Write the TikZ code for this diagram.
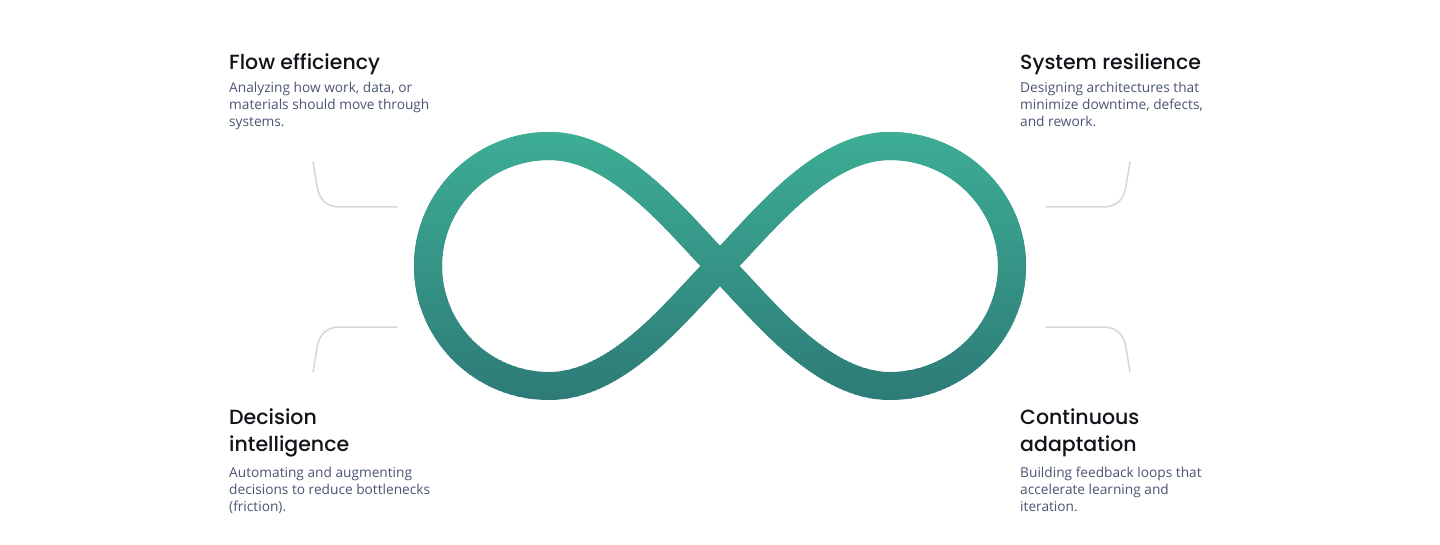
\documentclass[tikz,border=0pt]{standalone}
\usepackage{fontspec}
\setmainfont{Open Sans}
\newfontfamily\titlefont{Poppins Medium}
\definecolor{inftop}{HTML}{3DAE95}
\definecolor{infbot}{HTML}{2D7A77}
\definecolor{titlecol}{HTML}{111318}
\definecolor{bodycol}{HTML}{4B5673}
\definecolor{linkcol}{HTML}{D3D6DC}
\def\infpath{(720,266) .. controls (760,226) and (820,146) .. (890,146)
  .. controls (957,146) and (1012,200) .. (1012,266)
  .. controls (1012,332) and (957,386) .. (890,386)
  .. controls (820,386) and (760,306) .. (720,266)
  .. controls (680,226) and (620,146) .. (549,146)
  .. controls (482,146) and (428,200) .. (428,266)
  .. controls (428,332) and (482,386) .. (549,386)
  .. controls (620,386) and (680,306) .. (720,266) -- cycle}
\begin{document}
\begin{tikzpicture}[x=1pt,y=-1pt,
  titletext/.style={font=\titlefont\fontsize{20.5}{27.5}\selectfont, text=titlecol, inner sep=0pt, align=left, anchor=base west},
  bodytext/.style={font=\fontsize{13.7}{17}\selectfont, text=bodycol, inner sep=0pt, align=left, anchor=base west},
  linkline/.style={draw=linkcol, line width=1.5pt, line cap=round}]
\useasboundingbox[fill=white] (0,0) rectangle (1440,545);
% infinity with vertical gradient
\foreach \i in {0,...,136} {
  \pgfmathsetmacro\p{100*\i/136}
  \begin{scope}
    \clip (380,{130+2*\i}) rectangle (1060,{132.6+2*\i});
    \draw[line width=28pt, line join=round, color=infbot!\p!inftop] \infpath;
  \end{scope}
}
% texts (anchor is the baseline of the last line)
\node[titletext] (t1) at (229,69.5) {Flow efficiency};
\node[bodytext] (b1) at (229,127) {Analyzing how work, data, or\\materials should move through\\systems.};
\node[titletext] (t2) at (1020,69.5) {System resilience};
\node[bodytext] (b2) at (1020,127) {Designing architectures that\\minimize downtime, defects,\\and rework.};
\node[titletext] (t3) at (229,451.5) {Decision\\intelligence};
\node[bodytext] (b3) at (229,511) {Automating and augmenting\\decisions to reduce bottlenecks\\(friction).};
\node[titletext] (t4) at (1020,451.5) {Continuous\\adaptation};
\node[bodytext] (b4) at (1020,511) {Building feedback loops that\\accelerate learning and\\iteration.};
% connector lines
\coordinate (l1a) at (313,162); \coordinate (l1b) at (397,207);
\coordinate (l2a) at (313,372); \coordinate (l2b) at (397,327);
\coordinate (l3a) at (1130,162); \coordinate (l3b) at (1046,207);
\coordinate (l4a) at (1130,372); \coordinate (l4b) at (1046,327);
\draw[linkline] (l1a) -- (317,186) .. controls (319,200) and (327,207) .. (340,207) -- (l1b);
\draw[linkline] (l2a) -- (317,348) .. controls (319,334) and (327,327) .. (340,327) -- (l2b);
\draw[linkline] (l3a) -- (1126,186) .. controls (1124,200) and (1116,207) .. (1103,207) -- (l3b);
\draw[linkline] (l4a) -- (1126,348) .. controls (1124,334) and (1116,327) .. (1103,327) -- (l4b);
\end{tikzpicture}
\end{document}
